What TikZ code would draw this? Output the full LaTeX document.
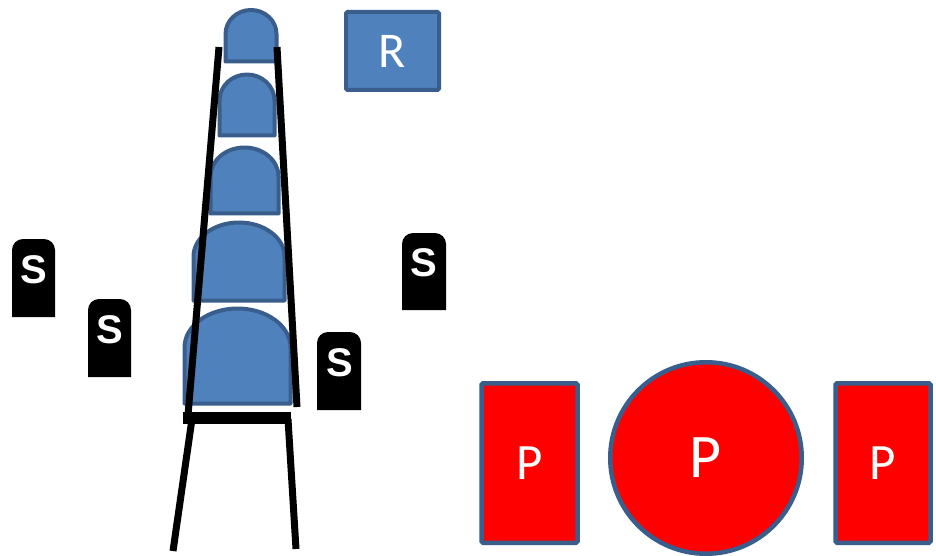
\documentclass[tikz,border=0pt]{standalone}
\usepackage{fontspec}
\setmainfont{Carlito}
\newfontfamily\markfont{Liberation Sans}
\definecolor{seatblue}{HTML}{4F81BD}
\definecolor{edgeblue}{HTML}{3A5E8C}
\definecolor{pred}{HTML}{FF0000}
\tikzset{
  seat/.style={fill=seatblue, draw=edgeblue, line width=4pt, line join=round},
  frame/.style={black, line width=7pt},
  stone/.style={fill=black},
  stonelabel/.style={text=white, font=\markfont\bfseries\fontsize{40}{40}\selectfont, inner sep=0pt},
  rbox/.style={rectangle, fill=seatblue, draw=edgeblue, line width=4pt, rounded corners=1.5pt,
    minimum width=93pt, minimum height=78pt, inner sep=0pt, text=white,
    font=\fontsize{50}{50}\selectfont},
  pbox/.style={rectangle, fill=pred, draw=edgeblue, line width=4.5pt, rounded corners=1.5pt,
    minimum width=96pt, minimum height=159.5pt, inner sep=0pt, text=white,
    font=\fontsize{51}{51}\selectfont},
  pcircle/.style={circle, fill=pred, draw=edgeblue, line width=4.5pt,
    minimum size=191.5pt, inner sep=0pt, text=white,
    font=\fontsize{62}{62}\selectfont},
}
% seat: left x, bottom y, side height, half width, arch height
\newcommand{\seatshape}[5]{%
  \draw[seat] (#1,#2) -- ++(0,#3) arc[start angle=180, end angle=0, x radius=#4, y radius=#5] -- ++(0,-#3) -- cycle;}
% marker stone: left x, bottom y, width, height
\newcommand{\stoneshape}[4]{%
  \fill[stone] (#1,#2) -- ++(0,#4-11) arc[start angle=180, end angle=90, radius=11] -- ++(#3-22,0) arc[start angle=90, end angle=0, radius=11] -- ++(0,-#4+11) -- cycle;}
\begin{document}
\begin{tikzpicture}[x=1pt, y=1pt]
  \fill[white] (0,0) rectangle (936,555);
  \useasboundingbox (0,0) rectangle (936,555);

  % stacked seats
  \seatshape{225.5}{493.5}{27.5}{25.5}{24}
  \seatshape{219.5}{419.5}{35}{27.5}{26}
  \seatshape{210.5}{341.5}{37}{34}{29}
  \seatshape{193.5}{254.5}{44}{45.5}{34}
  \seatshape{184.5}{151.5}{56}{53}{39}

  % chair frame
  \coordinate (ul1) at (219,508);
  \coordinate (ul2) at (188,140);
  \coordinate (ur1) at (277,508);
  \coordinate (ur2) at (297,148);
  \coordinate (bar1) at (183,137.5);
  \coordinate (bar2) at (291,137.5);
  \coordinate (ll1) at (192,136);
  \coordinate (ll2) at (173,4);
  \coordinate (rl1) at (288,136);
  \coordinate (rl2) at (296,6);
  \draw[frame] (ul1) -- (ul2);
  \draw[frame] (ur1) -- (ur2);
  \draw[frame, line width=12pt] (bar1) -- (bar2);
  \draw[frame] (ll1) -- (ll2);
  \draw[frame] (rl1) -- (rl2);

  % S markers
  \stoneshape{12}{238}{43}{78}
  \node[stonelabel] (s1) at (33.5,285.5) {S};
  \stoneshape{88}{178}{43}{78}
  \node[stonelabel] (s2) at (110,225.5) {S};
  \stoneshape{402}{245}{44}{77}
  \node[stonelabel] (s3) at (424,292) {S};
  \stoneshape{317}{145}{44}{78}
  \node[stonelabel] (s4) at (339.5,192.5) {S};

  % R box
  \node[rbox] (r) at (392.5,504) {R};

  % P shapes
  \node[pbox] (p1) at (529.5,92) {P};
  \node[pcircle] (p2) at (706,97) {P};
  \node[pbox, minimum width=95pt] (p3) at (883,92) {P};
\end{tikzpicture}
\end{document}
